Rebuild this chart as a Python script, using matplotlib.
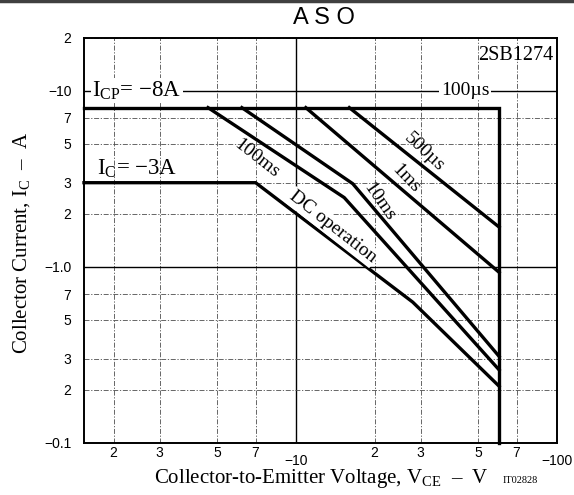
import matplotlib
matplotlib.use("Agg")
import matplotlib.pyplot as plt
from matplotlib.ticker import FixedLocator, FixedFormatter
from matplotlib.lines import Line2D

plt.rcParams["mathtext.fontset"] = "custom"
plt.rcParams["mathtext.rm"] = "Liberation Serif"
plt.rcParams["mathtext.it"] = "Liberation Serif"

# safe operating area curves (V_CE in V, I_C in A, magnitudes)
icp_v = [1.54, 60, 60]
icp_i = [8, 8, 0.1]
dc_v = [1.54, 7, 28, 60]
dc_i = [3, 3, 0.63, 0.21]
ms100_v = [4.6, 15.3, 60]
ms100_i = [8, 2.47, 0.26]
ms10_v = [6.2, 16.5, 60]
ms10_i = [8, 2.96, 0.31]
ms1_v = [10.9, 60]
ms1_i = [8, 0.93]
us500_v = [16, 60]
us500_i = [8, 1.68]

x_major = [10, 100]
x_major_labels = ["\u221210", "\u2212100"]
x_minor = [2, 3, 5, 7, 20, 30, 50, 70]
x_minor_labels = ["2", "3", "5", "7", "2", "3", "5", "7"]
y_major = [0.1, 1, 10]
y_major_labels = ["\u22120.1", "\u22121.0", "\u221210"]
y_minor = [0.2, 0.3, 0.5, 0.7, 2, 3, 5, 7, 20]
y_minor_labels = ["2", "3", "5", "7", "2", "3", "5", "7", "2"]

serif = "Liberation Serif"
sans = "Liberation Sans"

fig = plt.figure(figsize=(5.74, 4.95), dpi=100)
ax = fig.add_axes([0.1463, 0.1051, 0.8241, 0.8191])
ax.set_xscale("log")
ax.set_yscale("log")
ax.set_xlim(1.54, 100)
ax.set_ylim(0.1, 20)

ax.xaxis.set_major_locator(FixedLocator(x_major))
ax.xaxis.set_major_formatter(FixedFormatter(x_major_labels))
ax.xaxis.set_minor_locator(FixedLocator(x_minor))
ax.xaxis.set_minor_formatter(FixedFormatter(x_minor_labels))
ax.yaxis.set_major_locator(FixedLocator(y_major))
ax.yaxis.set_major_formatter(FixedFormatter(y_major_labels))
ax.yaxis.set_minor_locator(FixedLocator(y_minor))
ax.yaxis.set_minor_formatter(FixedFormatter(y_minor_labels))

ax.tick_params(which="both", length=0, labelsize=10)
ax.tick_params(axis="x", which="minor", pad=2.2)
ax.tick_params(axis="x", which="major", pad=7.8)
ax.tick_params(axis="y", which="both", pad=9)
for lab in ax.get_xticklabels(which="both") + ax.get_yticklabels(which="both"):
    lab.set_family(sans)

ax.grid(which="major", color="black", linewidth=1.0, linestyle="-")
ax.grid(which="minor", color="0.3", linewidth=0.6, linestyle=(0, (6, 2, 1.5, 2)))
for sp in ax.spines.values():
    sp.set_linewidth(1.4)

lw = 2.4
for xs, ys in [(icp_v, icp_i), (dc_v, dc_i), (ms100_v, ms100_i),
               (ms10_v, ms10_i), (ms1_v, ms1_i), (us500_v, us500_i)]:
    ax.plot(xs, ys, color="black", linewidth=lw, solid_joinstyle="miter",
            clip_on=False, zorder=3)

white = dict(facecolor="white", edgecolor="none", pad=1.0)
lab_kw = dict(family=serif, fontsize=14, ha="center", va="center", zorder=4)
ax.text(7.04, 4.1, "100ms", rotation=-38, **lab_kw)
ax.text(20.9, 2.33, "10ms", rotation=-55, **lab_kw)
ax.text(26.4, 3.16, "1ms", rotation=-46, **lab_kw)
ax.text(31, 4.47, "500\u00b5s", rotation=-43, **lab_kw)
ax.text(13.8, 1.68, "DC operation", rotation=-38, bbox=white, **lab_kw)
ax.text(44.4, 10, "100\u00b5s", bbox=white, **lab_kw)
ax.text(1.66, 10, "I$_{\\rm CP}$= \u22128A", family=serif, fontsize=16.5,
        ha="left", va="center", bbox=white, zorder=4)
ax.text(1.72, 3.61, "I$_{\\rm C}$= \u22123A", family=serif, fontsize=16.5,
        ha="left", va="center", zorder=4)
ax.text(97, 15.8, "2SB1274", family=serif, fontsize=14.5, ha="right",
        va="center", zorder=4)

fig.text(0.564, 0.963, "A S O", family=sans, fontsize=17, ha="center", va="center")
fig.text(0.038, 0.509, "Collector Current, I$_{\\rm C}$  \u2013  A", family=serif,
         fontsize=15, rotation=90, ha="center", va="center")
fig.text(0.56, 0.033, "Collector-to-Emitter Voltage, V$_{\\rm CE}$  \u2013  V",
         family=serif, fontsize=15, ha="center", va="center")
fig.text(0.906, 0.03, "IT02828", family=serif, fontsize=7.5, ha="center", va="center")

fig.add_artist(Line2D([0, 1], [0.997, 0.997], transform=fig.transFigure,
                      color="0.25", linewidth=2.5))

fig.savefig("out.png", dpi=100)
